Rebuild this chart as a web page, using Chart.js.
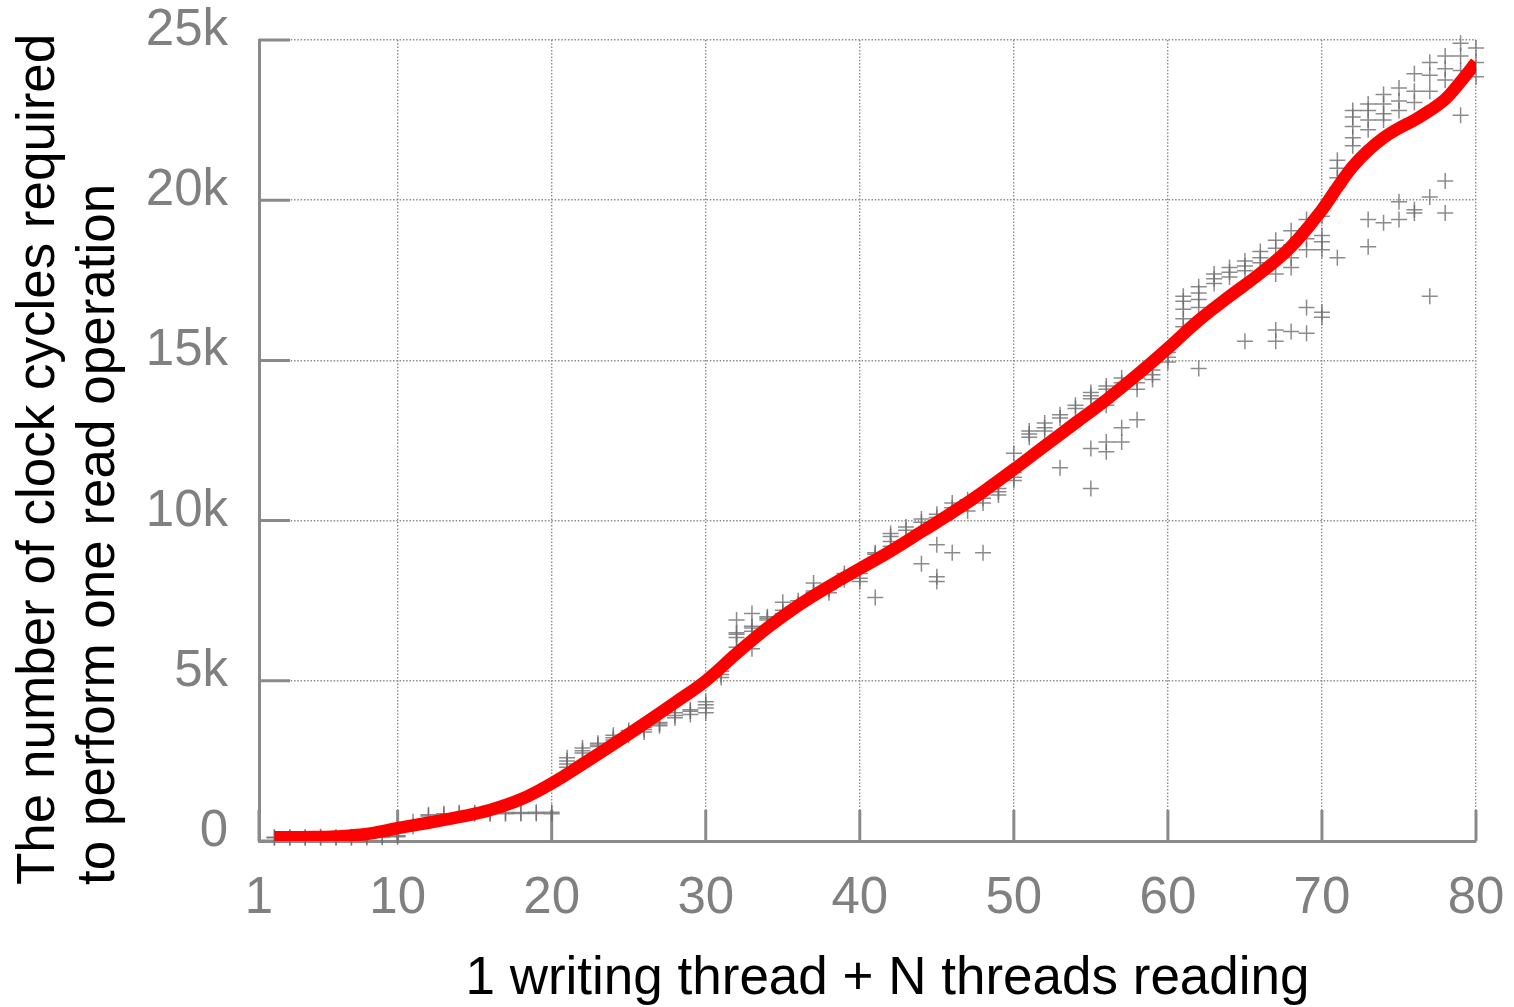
<!DOCTYPE html>
<html>
<head>
<meta charset="utf-8">
<script src="https://cdn.jsdelivr.net/npm/chart.js@4/dist/chart.umd.min.js"></script>
<style>
    html, body { margin: 0; padding: 0; background: #fff; }
    #wrap { width: 1514px; height: 1007px; }
</style>
</head>
<body>
<div id="wrap"><canvas id="reads-chart"></canvas></div>
<script>
// Thread counts on the x axis (1 writer + N readers)
const threadCounts = [
     2,  3,  4,  5,  6,  7,  8,  9, 10,
    11, 12, 13, 14, 15, 16, 17, 18, 19, 20,
    21, 22, 23, 24, 25, 26, 27, 28, 29, 30,
    31, 32, 33, 34, 35, 36, 37, 38, 39, 40,
    41, 42, 43, 44, 45, 46, 47, 48, 49, 50,
    51, 52, 53, 54, 55, 56, 57, 58, 59, 60,
    61, 62, 63, 64, 65, 66, 67, 68, 69, 70,
    71, 72, 73, 74, 75, 76, 77, 78, 79, 80
];

// Measured clock cycles per read (thousands), several runs per thread count
const readSamples = [
    [0.10, 0.12], [0.10, 0.12], [0.10, 0.12], [0.10, 0.13], [0.10, 0.12],
    [0.10, 0.13], [0.11, 0.14], [0.12, 0.15], [0.13, 0.16],
    [0.45, 0.60], [0.78, 0.82], [0.80, 0.85], [0.84, 0.88], [0.85, 0.88],
    [0.85, 0.88], [0.85, 0.89], [0.86, 0.89], [0.86, 0.90], [0.85, 0.90],
    [2.30, 2.40, 2.50, 2.60], [2.75, 2.82, 2.90], [2.95, 3.00, 3.05], [3.15, 3.22, 3.30],
    [3.30, 3.38, 3.45], [3.40, 3.48, 3.55], [3.60, 3.65, 3.70], [3.85, 3.92, 4.00],
    [3.95, 4.05, 4.10], [4.00, 4.15, 4.25, 4.35],
    [5.10, 5.20, 5.30], [6.05, 6.35, 6.45, 6.50, 6.90], [6.00, 6.55, 6.65, 6.70, 7.10],
    [6.90, 6.95, 7.00], [7.10, 7.20, 7.45], [7.40, 7.50], [7.75, 7.80, 8.05],
    [7.75, 7.85, 7.90], [8.15, 8.25, 8.35], [8.10, 8.20, 8.35],
    [7.60, 8.85, 8.95, 9.00], [9.20, 9.35, 9.50, 9.60], [9.70, 9.80], [8.65, 9.95, 10.05],
    [8.10, 8.25, 9.25, 10.10, 10.20], [9.00, 10.25, 10.40, 10.55], [10.30, 10.50, 10.65],
    [9.00, 10.55, 10.70], [10.80, 10.90, 11.00], [11.25, 11.35, 11.50, 12.10],
    [12.60, 12.70, 12.80], [12.80, 12.90, 13.05], [11.65, 13.20, 13.30], [13.50, 13.60],
    [11.00, 12.25, 13.80, 13.90, 14.00], [12.15, 12.45, 13.60, 14.10, 14.20],
    [12.45, 12.90, 14.30, 14.45], [13.15, 14.10, 14.30, 14.45], [14.40, 14.55, 14.70],
    [14.95, 15.10, 15.25],
    [16.05, 16.30, 16.60, 16.85, 17.00], [14.75, 16.65, 16.90, 17.10, 17.30],
    [17.40, 17.55, 17.70], [17.60, 17.75, 17.90], [15.60, 17.80, 17.95, 18.10],
    [18.05, 18.20, 18.40], [15.60, 15.95, 17.70, 18.10, 18.50, 18.75],
    [15.90, 17.90, 18.20, 18.60, 19.05], [15.85, 16.65, 18.45, 18.80, 19.10, 19.40],
    [16.35, 16.50, 18.45, 18.70, 18.90, 19.50],
    [18.20, 20.40, 20.70, 21.00, 21.25], [21.70, 21.95, 22.30, 22.60, 22.80],
    [18.55, 19.40, 22.20, 22.50, 22.80, 23.00], [19.30, 22.50, 22.70, 23.00, 23.30],
    [19.40, 19.95, 22.80, 23.10, 23.50], [19.60, 19.70, 23.05, 23.40, 23.95],
    [17.00, 20.10, 23.40, 23.90, 24.30], [19.60, 20.60, 23.75, 24.10, 24.50],
    [22.65, 24.05, 24.50, 24.90], [23.85, 24.30, 24.75]
];

// Smoothed trend curve (thousands of cycles)
const fitThreads = [2, 4, 6, 8, 10, 12, 14, 16, 18, 20, 22, 24, 26, 28, 30, 32, 34, 36, 38, 40,
    42, 44, 46, 48, 50, 52, 54, 56, 58, 60, 62, 64, 66, 68, 70, 71, 72, 73, 74, 75, 76, 77, 78, 79, 80];
const fitCycles = [0.12, 0.12, 0.14, 0.22, 0.40, 0.57, 0.75, 0.97, 1.30, 1.80, 2.40, 3.02, 3.66, 4.32,
    5.00, 5.85, 6.65, 7.35, 7.95, 8.50, 9.05, 9.65, 10.25, 10.90, 11.60, 12.33, 13.05, 13.77, 14.55,
    15.38, 16.25, 17.00, 17.72, 18.55, 19.70, 20.40, 21.05, 21.55, 21.95, 22.25, 22.50, 22.80, 23.15,
    23.70, 24.30];

const xTickValues = [1, 10, 20, 30, 40, 50, 60, 70, 80];
const yTickValues = [0, 5, 10, 15, 20, 25];

const xTitle = '1 writing thread + N threads reading';
const yTitle = ['The number of clock cycles required', 'to perform one read operation'];

const axisGrey = '#8a8a8a';
const titleFont = '53px "Liberation Sans", Arial, sans-serif';

// Build scatter points from the samples
const scatterPoints = [];
threadCounts.forEach((n, i) => {
    readSamples[i].forEach(v => scatterPoints.push({ x: n, y: v }));
});
const fitPoints = fitThreads.map((n, i) => ({ x: n, y: fitCycles[i] }));

// Inner tick marks and axis titles
const axisDecor = {
    id: 'axisDecor',
    beforeDatasetsDraw(chart) {
        const { ctx, chartArea: a, scales: { x, y } } = chart;
        ctx.save();
        ctx.strokeStyle = axisGrey;
        ctx.lineWidth = 3;
        ctx.beginPath();
        yTickValues.forEach(v => {
            const py = y.getPixelForValue(v);
            ctx.moveTo(a.left, py);
            ctx.lineTo(a.left + 31, py);
        });
        xTickValues.forEach(v => {
            const px = x.getPixelForValue(v);
            ctx.moveTo(px, a.bottom);
            ctx.lineTo(px, a.bottom - 31);
        });
        ctx.stroke();
        ctx.restore();
    },
    afterDraw(chart) {
        const { ctx, chartArea: a } = chart;
        ctx.save();
        ctx.font = titleFont;
        ctx.fillStyle = '#000';
        ctx.textBaseline = 'alphabetic';
        ctx.textAlign = 'center';
        ctx.fillText(xTitle, (a.left + a.right) / 2 + 20, 994);

        ctx.translate(54, a.bottom + 44);
        ctx.rotate(-Math.PI / 2);
        ctx.textAlign = 'left';
        yTitle.forEach((line, i) => ctx.fillText(line, 0, i * 60));
        ctx.restore();
    }
};

new Chart(document.getElementById('reads-chart'), {
    type: 'scatter',
    data: {
        datasets: [
            {
                label: 'trend',
                data: fitPoints,
                showLine: true,
                borderColor: '#ff0000',
                borderWidth: 12.5,
                pointRadius: 0,
                tension: 0.4,
                borderCapStyle: 'butt'
            },
            {
                label: 'samples',
                data: scatterPoints,
                pointStyle: 'cross',
                pointRadius: 8,
                borderWidth: 1.5,
                borderColor: 'rgba(110,110,110,0.8)',
                backgroundColor: 'rgba(110,110,110,0.8)',
                clip: false
            }
        ]
    },
    options: {
        responsive: true,
        maintainAspectRatio: false,
        animation: false,
        layout: { padding: { top: 40, right: 38, left: 0, bottom: 0 } },
        plugins: {
            legend: { display: false },
            tooltip: { enabled: false }
        },
        scales: {
            x: {
                type: 'linear',
                min: 1,
                max: 80,
                afterBuildTicks: scale => { scale.ticks = xTickValues.map(v => ({ value: v })); },
                afterFit: scale => {
                    scale.height = 166;
                    scale.paddingLeft = 0;
                    scale.paddingRight = 0;
                },
                grid: { color: '#8c8c8c', lineWidth: 1.4, drawTicks: false },
                border: { display: true, color: axisGrey, width: 3, dash: [1.5, 1.8] },
                ticks: {
                    autoSkip: false,
                    maxRotation: 0,
                    padding: 27,
                    color: '#808080',
                    font: { family: '"Liberation Sans", Arial, sans-serif', size: 51 }
                }
            },
            y: {
                min: 0,
                max: 25,
                afterBuildTicks: scale => { scale.ticks = yTickValues.map(v => ({ value: v })); },
                afterFit: scale => {
                    scale.width = 259;
                    scale.paddingTop = 0;
                    scale.paddingBottom = 0;
                },
                grid: { color: '#8c8c8c', lineWidth: 1.4, drawTicks: false },
                border: { display: true, color: axisGrey, width: 3, dash: [1.5, 1.8] },
                ticks: {
                    padding: 31,
                    labelOffset: -9,
                    color: '#808080',
                    font: { family: '"Liberation Sans", Arial, sans-serif', size: 51 },
                    callback: v => (v === 0 ? '0' : v + 'k')
                }
            }
        }
    },
    plugins: [axisDecor]
});
</script>
</body>
</html>
